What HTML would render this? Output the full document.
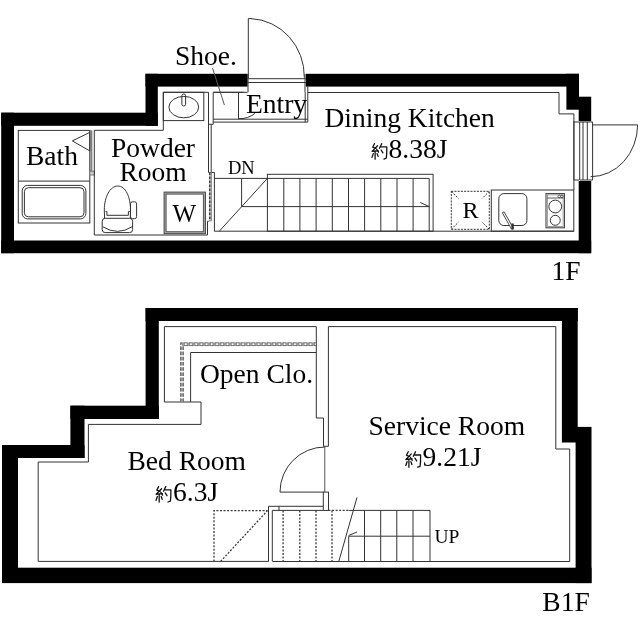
<!DOCTYPE html>
<html><head><meta charset="utf-8">
<style>
html,body{margin:0;padding:0;background:#fff;width:640px;height:640px;overflow:hidden}
svg{display:block;will-change:transform}
text{font-family:"Liberation Serif",serif;fill:#000}
</style></head>
<body>
<svg width="640" height="640" viewBox="0 0 640 640">
<defs>
<g id="yaku" fill="none" stroke="#111" stroke-width="1.3" stroke-linecap="round" stroke-linejoin="round">
  <path d="M3.0 0.5 L1.2 4.0 L4.4 5.2"/>
  <path d="M6.0 2.6 L0.6 8.2 L6.8 7.6"/>
  <path d="M5.2 6.2 L7.0 9.0"/>
  <path d="M3.6 7.8 V16.0"/>
  <path d="M1.8 10.4 L0.5 14.2"/>
  <path d="M5.6 10.4 L6.6 13.2"/>
  <path d="M10.2 0.5 L8.0 5.0"/>
  <path d="M9.2 3.7 H15.3 Q15.4 11 14.8 15.0 L12.4 15.9"/>
  <path d="M9.6 6.8 L11.4 9.6"/>
</g>
</defs>

<!-- ================= 1F WALLS ================= -->
<g fill="#000">
  <rect x="1.2" y="112.7" width="12.8" height="140.5"/>
  <rect x="1.2" y="112.7" width="156.6" height="13.1"/>
  <rect x="145.5" y="73.8" width="12.3" height="52"/>
  <rect x="145.5" y="73.8" width="102.1" height="12.8"/>
  <rect x="305.9" y="73.8" width="273.1" height="12.8"/>
  <rect x="566.4" y="73.8" width="12.6" height="35.9"/>
  <rect x="578.7" y="96.7" width="12.5" height="24.5"/>
  <rect x="578.7" y="181" width="12.5" height="72.2"/>
  <rect x="1.2" y="240.5" width="590" height="12.7"/>
</g>

<!-- ================= 1F THIN LINES ================= -->
<g fill="none" stroke="#333" stroke-width="1">
  <!-- bath -->
  <rect x="18.3" y="130.4" width="71.5" height="92.6"/>
  <line x1="18.3" y1="181.1" x2="89.8" y2="181.1"/>
  <rect x="22.2" y="185.4" width="63.7" height="33.5" rx="5.5"/>
  <rect x="24.4" y="187.7" width="59.6" height="29.1" rx="4"/>
  <rect x="89.7" y="131" width="2.1" height="40.2" fill="#aaa" stroke="#666"/>
  <rect x="89.7" y="171.2" width="4.8" height="3.8" fill="#ccc" stroke="#777"/>
  <polygon points="72.3,140.9 89.8,132.4 89.8,150.9"/>
  <!-- powder room outline -->
  <path d="M94.3 130.3 H163.3 V92.3 H208.5 V172.5"/>
  <path d="M94.3 130.3 V235 H207.5 V221.3"/>
  <!-- sink counter -->
  <rect x="163.3" y="92.3" width="40.5" height="28.3"/>
  <ellipse cx="183.8" cy="107.1" rx="14.9" ry="10.7"/>
  <rect x="181.9" y="94" width="3.7" height="12" rx="1.8"/>
  <!-- partition -->
  <path d="M211.2 172.5 V124.3 H208.5 M213.2 124.3 H211.2"/>
  <path d="M208.5 172.5 H214.4 V231.3"/>
  <!-- sliding door -->
  <rect x="209.2" y="172.6" width="2.4" height="48.7" fill="#ddd" stroke="none"/>
  <path d="M209.8 172.6 V221.3" stroke="#333" stroke-width="1.5" stroke-dasharray="2.6 1.4"/>
  <path d="M211.4 172.6 V221.3" stroke="#888"/>
  <path d="M207.5 221.3 H208.7"/>
  <!-- W box -->
  <rect x="165.1" y="193.1" width="39.3" height="39.6" stroke="#aaa" stroke-width="2"/>
  <rect x="164.1" y="192.1" width="41.3" height="41.6" stroke="#444" stroke-width="1"/>
  <rect x="166.1" y="194.1" width="37.3" height="37.6" stroke="#555" stroke-width="1"/>
  <!-- toilet -->
  <path d="M104.6 218.3 L104.3 210 C104.3 197 110 186 117.8 186 C125.6 186 130.5 197 130.5 210 L130.3 218.3"/>
  <path d="M105.6 211.5 H106.9 V215.3 H128.4 V211.5 H129.8"/>
  <rect x="102.2" y="218.3" width="30.4" height="14.3" rx="3"/>
  <path d="M102.6 226.7 Q117.5 236 132.2 226.7"/>
  <rect x="130.5" y="201.8" width="6.1" height="16.9" rx="2"/>
  <!-- shoe cabinet -->
  <path d="M213.2 92.3 V124.3 M213.2 92.3 H238.5 V119.2"/>
  <line x1="212.5" y1="68" x2="224.4" y2="105" stroke="#555"/>
  <path d="M238.5 92.3 H243.7"/>
  <path d="M238.5 118.7 Q248 119 254.8 113.5"/>
  <!-- entry -->
  <path d="M213.2 92.3 H247.5"/>
  <path d="M213.2 119.2 H307.8"/>
  <path d="M213.2 122.1 H307.8"/>
  <path d="M305.2 92.3 V122.1"/>
  <path d="M307.8 86.6 V122.1"/>
  <!-- entry door threshold -->
  <path d="M247.5 78.7 H306"/>
  <path d="M247.5 82.5 H306"/>
  <path d="M248 74 V92.3"/>
  <path d="M305 74 V92.3"/>
  <!-- entry door -->
  <path d="M248.3 78 V18.6 H252"/>
  <path d="M251 18.6 A56 58 0 0 1 304.3 77.5"/>
  <!-- DK outline -->
  <path d="M307.8 92.5 H559 V113.9 H573.9 V190"/>
  <!-- right door frame -->
  <path d="M573.9 121 V180 H579"/>
  <path d="M579.7 122 V180"/>
  <path d="M583 122 V180"/>
  <path d="M587.3 122 V180"/>
  <path d="M592.6 122 V180"/>
  <path d="M574 122 H592.6"/>
  <path d="M579.7 180 H592.6"/>
  <path d="M592 124.9 H637.6"/>
  <path d="M637.6 124.9 A47 52 0 0 1 590.6 176.7"/>
  <!-- stairs 1F -->
  <path d="M214.4 178.4 H267.4"/>
  <path d="M214.4 231.2 H573.9"/>
  <rect x="267.4" y="174.3" width="165.7" height="56.9"/>
  <path d="M267.4 178.4 H429.2 V231.2"/>
  <path d="M241.6 178.4 V206.6 H429.2"/>
  <path d="M219.3 231.2 L267.4 178.4"/>
  <path d="M283.8 178.4 V231.2 M299.9 178.4 V231.2 M316.1 178.4 V231.2 M332.3 178.4 V231.2 M348.5 178.4 V231.2 M364.6 178.4 V231.2 M380.8 178.4 V231.2 M397 178.4 V231.2 M413.1 178.4 V231.2"/>
  <path d="M420.3 202.5 L429.2 206.6"/>
  <!-- kitchen counter -->
  <rect x="491.3" y="190" width="82.5" height="41.2"/>
  <rect x="498.8" y="193.6" width="28.1" height="31.9" rx="5"/>
  <path d="M503.6 213 L512 228" stroke-width="2.8" stroke="#444" stroke-linecap="round"/>
  <path d="M503.6 213 L512 228" stroke-width="1.1" stroke="#fff" stroke-linecap="round"/>
  <path d="M512.6 223.5 V229.5" stroke-width="2.4" stroke="#333"/>
  <rect x="546" y="193.6" width="18.4" height="34.2"/>
  <rect x="547.3" y="194.9" width="15.8" height="31.6" stroke-width="0.7" stroke="#777"/>
  <circle cx="555.25" cy="206.5" r="6.4"/>
  <circle cx="555.25" cy="220.3" r="5"/>
  <path d="M547.2 198 H563.2" stroke-width="0.8"/>
  <circle cx="559.2" cy="196.4" r="1.3" stroke-width="0.7"/>
  <circle cx="562" cy="196.4" r="1.3" stroke-width="0.7"/>
  <!-- fridge -->
  <rect x="451.3" y="191.3" width="38" height="38" stroke-dasharray="2 1.2"/>
  <path d="M451.3 191.3 L458.5 198.5 M489.3 191.3 L482.1 198.5 M451.3 229.3 L458.5 222.1 M489.3 229.3 L482.1 222.1" stroke-dasharray="2 1.2"/>
</g>

<!-- ================= 1F TEXT ================= -->
<g font-size="27.5">
  <text x="26" y="165">Bath</text>
  <text x="153" y="156.6" text-anchor="middle">Powder</text>
  <text x="153" y="181" text-anchor="middle">Room</text>
  <text x="175" y="65">Shoe.</text>
  <text x="246" y="113">Entry</text>
  <text x="324.5" y="127">Dining Kitchen</text>
  <text x="388.5" y="158.2">8.38J</text>
  <text x="551.5" y="279.6">1F</text>
</g>
<text x="172.5" y="221.6" font-size="25">W</text>
<text x="462.5" y="218.3" font-size="24">R</text>
<text x="228" y="174.2" font-size="18.5">DN</text>
<use href="#yaku" x="371.5" y="143.2"/>

<!-- ================= B1F WALLS ================= -->
<g fill="#000">
  <rect x="145.6" y="308" width="432.2" height="13"/>
  <rect x="145.6" y="308" width="13.2" height="111"/>
  <rect x="70.4" y="405.7" width="88.4" height="13.3"/>
  <rect x="70.4" y="405.7" width="14.1" height="52.3"/>
  <rect x="2" y="445" width="82.5" height="13"/>
  <rect x="2" y="445" width="16" height="138"/>
  <rect x="2" y="567.7" width="589.5" height="15.4"/>
  <rect x="561.9" y="308" width="15.8" height="134.5"/>
  <rect x="575.6" y="426.9" width="15.9" height="156.2"/>
</g>

<!-- ================= B1F THIN LINES ================= -->
<g fill="none" stroke="#333" stroke-width="1">
  <!-- closet -->
  <path d="M164.4 402 V326.6 H316.3 V418 H323.5 V446.3"/>
  <path d="M164.4 402 H201 V424.4"/>
  <path d="M190.6 402 V352.5 H316.3"/>
  <path d="M182 402 V344.2 H316.3" stroke="#9a9a9a" stroke-width="3.4" stroke-dasharray="3.6 1.6"/>
  <path d="M180.6 402 V342.8 H316.3 M183.4 402 V345.6 H316.3" stroke="#666" stroke-width="0.9" stroke-dasharray="3.6 1.6"/>
  <!-- bed room outline -->
  <path d="M201 424.4 H88.4 V462 H38.2 V561.4 H268.7"/>
  <!-- service room outline -->
  <path d="M328.4 446.3 V326.6 H555.8 V449 H569.7 V561.5 H272.5"/>
  <!-- door -->
  <path d="M323.5 446.3 H328.4"/>
  <path d="M280 492.1 H323.5"/>
  <path d="M280 492.1 A45 45 0 0 1 325 447"/>
  <path d="M324.8 446.3 V492.1" stroke="#555"/>
  <rect x="323.3" y="492.1" width="5.2" height="18.3"/>
  <!-- stairs B1F -->
  <path d="M268.5 561.4 V506.3 H323.3"/>
  <path d="M272.3 561.4 V510.4 H323.3"/>
  <path d="M279 506.3 V510.4"/>
  <path d="M348.7 510.4 H430 V561.4"/>
  <path d="M348.7 536.2 H430"/>
  <path d="M348.7 536.2 V561.4"/>
  <path d="M364.5 510.4 V561.4 M380.7 510.4 V561.4 M396.8 510.4 V561.4 M413 510.4 V561.4"/>
  <path d="M338.8 561.4 L357 497.5"/>
  <path d="M348.7 535.5 L357 532"/>
  <g stroke-dasharray="2 1.55" stroke="#3a3a3a" stroke-width="1.3">
    <path d="M214 561.4 V510.6 H267.5"/>
    <path d="M220.6 561.4 L267.5 510.6"/>
    <path d="M328.5 510.4 H348.7"/>
    <path d="M283.1 510.4 V561.4 M299.8 510.4 V561.4 M316 510.4 V561.4 M332 510.4 V561.4"/>
  </g>
</g>

<!-- ================= B1F TEXT ================= -->
<g font-size="27.5">
  <text x="200" y="382.8">Open Clo.</text>
  <text x="127.5" y="469.5">Bed Room</text>
  <text x="173" y="501">6.3J</text>
  <text x="368.5" y="434.5">Service Room</text>
  <text x="422.5" y="465.6">9.21J</text>
  <text x="542.3" y="610.5">B1F</text>
</g>
<text x="434.5" y="542.7" font-size="19.5">UP</text>
<use href="#yaku" x="155.6" y="486.1"/>
<use href="#yaku" x="405.3" y="451.3"/>
</svg>
</body></html>
